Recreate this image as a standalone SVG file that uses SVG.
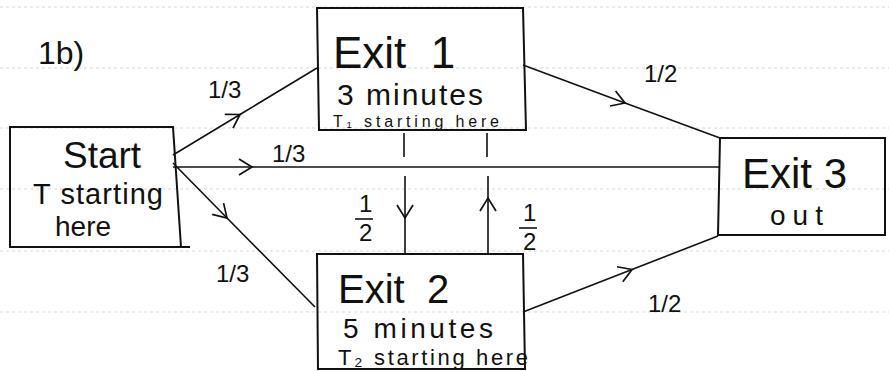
<svg xmlns="http://www.w3.org/2000/svg" width="889" height="371" viewBox="0 0 889 371">
<style>
.rule{stroke:#d6d6d6;stroke-width:1;stroke-dasharray:3 3;fill:none}
.box{fill:none;stroke:#111;stroke-width:2}
.edge{fill:none;stroke:#111;stroke-width:1.6}
.t{font-family:"Liberation Sans",Arial,sans-serif;fill:#111}
.lab{font-family:"Liberation Sans",Arial,sans-serif;fill:#111;font-size:24px}
</style>
<defs>
<marker id="chev" markerWidth="20" markerHeight="20" refX="15" refY="10" orient="auto" markerUnits="userSpaceOnUse">
<path d="M2,2 L15,10 L2,18" fill="none" stroke="#111" stroke-width="1.7"/>
</marker>
</defs>
<rect width="889" height="371" fill="#fff"/>
<g id="rules">
<line class="rule" x1="0" y1="7" x2="889" y2="7"/>
<line class="rule" x1="0" y1="68" x2="889" y2="68"/>
<line class="rule" x1="0" y1="128" x2="889" y2="128"/>
<line class="rule" x1="0" y1="189" x2="889" y2="189"/>
<line class="rule" x1="0" y1="251" x2="889" y2="251"/>
<line class="rule" x1="0" y1="312" x2="889" y2="312"/>
</g>
<text class="t" x="38" y="64" font-size="32">1b)</text>
<g id="connectors">
<path class="edge" d="M173,155 L240,114.5 L317,68" marker-mid="url(#chev)"/>
<path class="edge" d="M173,167 L252,167 L720,167" marker-mid="url(#chev)"/>
<path class="edge" d="M173,163 L227,218 L315,307" marker-mid="url(#chev)"/>
<path class="edge" d="M523,65 L625,103 L720,138" marker-mid="url(#chev)"/>
<path class="edge" d="M523,312 L632,269.5 L718,236" marker-mid="url(#chev)"/>
<line class="edge" x1="404" y1="133" x2="404" y2="157"/>
<path class="edge" d="M405,176 L405,218 L405,254" marker-mid="url(#chev)"/>
<line class="edge" x1="487" y1="133" x2="487" y2="157"/>
<path class="edge" d="M488,254 L488,198 L488,176" marker-mid="url(#chev)"/>
<text class="lab" x="208" y="98">1/3</text>
<text class="lab" x="272" y="162">1/3</text>
<text class="lab" x="216" y="282">1/3</text>
<text class="lab" x="644" y="82">1/2</text>
<text class="lab" x="648" y="312">1/2</text>
<text class="lab" x="359" y="212" font-size="16">1</text>
<line class="edge" x1="355" y1="219" x2="373" y2="219"/>
<text class="lab" x="359" y="241" font-size="16">2</text>
<text class="lab" x="523" y="221" font-size="16">1</text>
<line class="edge" x1="519" y1="228" x2="537" y2="228"/>
<text class="lab" x="523" y="250" font-size="16">2</text>
</g>
<g id="start">
<path class="box" d="M10,127 L173,127 L181,247 L10,247 Z"/>
<line class="box" x1="181" y1="247" x2="190" y2="247"/>
<text class="t" x="63" y="168" font-size="37">Start</text>
<text class="t" x="33" y="204" font-size="29" textLength="130" lengthAdjust="spacing">T starting</text>
<text class="t" x="55" y="236" font-size="28">here</text>
</g>
<g id="exit1">
<path class="box" d="M317,8 L523,8 L526,130 L319,130 Z"/>
<text class="t" x="333" y="68" font-size="44" xml:space="preserve">Exit  1</text>
<text class="t" x="337" y="105" font-size="30" textLength="146" lengthAdjust="spacing">3 minutes</text>
<text class="t" x="333" y="127" font-size="16" textLength="166" lengthAdjust="spacing">T₁ starting here</text>
</g>
<g id="exit2">
<path class="box" d="M317,254 L523,254 L525,369 L318,369 Z"/>
<text class="t" x="338" y="303" font-size="40" xml:space="preserve">Exit  2</text>
<text class="t" x="343" y="338" font-size="28" textLength="150" lengthAdjust="spacing">5 minutes</text>
<text class="t" x="338" y="365" font-size="22" textLength="190" lengthAdjust="spacing">T₂ starting here</text>
</g>
<g id="exit3">
<path class="box" d="M720,138 L885,138 L885,235 L718,235 Z"/>
<text class="t" x="742" y="188" font-size="42">Exit 3</text>
<text class="t" x="770" y="225" font-size="28" textLength="53" lengthAdjust="spacing">out</text>
</g>
</svg>
